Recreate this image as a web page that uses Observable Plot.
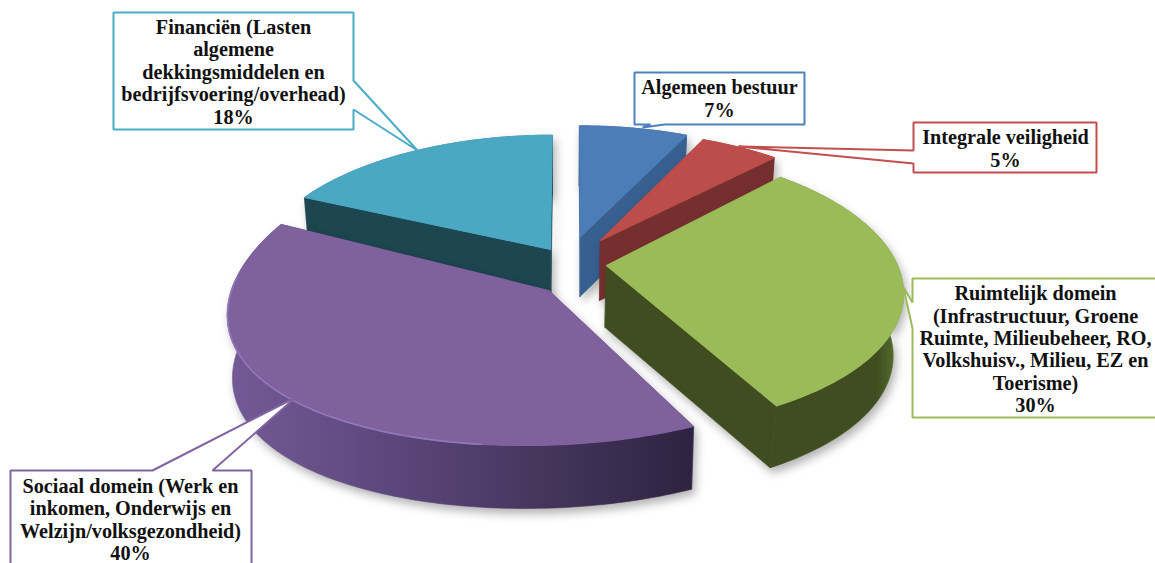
<!DOCTYPE html>
<html>
<head>
<meta charset="utf-8">
<style>html,body{margin:0;padding:0;background:#fff;overflow:hidden}</style>
<script src="https://cdn.jsdelivr.net/npm/d3@7"></script>
<script src="https://cdn.jsdelivr.net/npm/@observablehq/plot@0.6"></script>
</head>
<body>
<div id="chart"></div>
<script>
// ---- data ----
const categories = ["Algemeen bestuur", "Integrale veiligheid", "Ruimtelijk domein", "Sociaal domein", "Financiën"];
const values = [7, 5, 30, 40, 18];
const labelLines = [
  ["Algemeen bestuur"],
  ["Integrale veiligheid"],
  ["Ruimtelijk domein", "(Infrastructuur, Groene", "Ruimte, Milieubeheer, RO,", "Volkshuisv., Milieu, EZ en", "Toerisme)"],
  ["Sociaal domein (Werk en", "inkomen, Onderwijs en", "Welzijn/volksgezondheid)"],
  ["Financiën (Lasten", "algemene", "dekkingsmiddelen en", "bedrijfsvoering/overhead)"]
];

// ---- styles ----
const topColors  = ["#4c7db8", "#bd4d4a", "#9bbb59", "#7f619e", "#4aa8c3"];
const wallColors = ["#375f8f", "#762f2f", "#3f4d20", "#4a3a66", "#1d4650"];
const outerFill  = ["#375f8f", "#762f2f", "url(#greenWall)", "url(#purpleWall)", "#1d4650"];
const lineColors = ["#4f81bd", "#c0504d", "#9bbb59", "#8064a2", "#4bacc6"];

// ---- perspective of each exploded slice ----
const lens = [
  {ax: 580, ay: 236, A: 285, s: -1, bx: .15, a: 125, by: .13, depth: 60, shrink: .98},
  {ax: 600, ay: 240, A: 289, s: -7, bx: .15, a: 124, by: .125, depth: 60, shrink: .98},
  {ax: 606, ay: 265, A: 291, s: 0,  bx: .2,  a: 136, by: .172, depth: 62, shrink: .97},
  {ax: 548, ay: 290, A: 317, s: 22, bx: .09, a: 155, by: 0, depth: 63, shrink: .985},
  {ax: 550, ay: 249, A: 290, s: 2,  bx: .15, a: 129, by: .129, depth: 60, shrink: .98}
];
const vanishX = 560;

// ---- callout layout: box, leader base points on a box edge, leader tip, text centre ----
const callouts = [
  {x1: 634, y1: 72,  x2: 804,  y2: 124, leader: [[664, 124], [642, 127], [650, 124]], edge: "bottom", tx: 719,  ty: 98},
  {x1: 913, y1: 122, x2: 1096, y2: 172, leader: [[913, 150], [738, 146], [913, 163]], edge: "left", tx: 1005, ty: 148},
  {x1: 912, y1: 278, x2: 1160, y2: 417, leader: [[912, 302], [903, 287], [912, 328]], edge: "left", tx: 1035, ty: 348.5},
  {x1: 10,  y1: 470, x2: 251,  y2: 570, leader: [[152, 470], [295, 397], [212, 470]], edge: "top", tx: 130,  ty: 519},
  {x1: 113, y1: 12,  x2: 353,  y2: 129, leader: [[353, 80],  [417, 150], [353, 109]], edge: "right", tx: 233, ty: 71}
];

// ---- geometry from the shares ----
const total = d3.sum(values);
let cum = 0;
const spans = values.map(v => { const s = cum; cum += v; return [s / total * 2 * Math.PI, cum / total * 2 * Math.PI]; });

function rimPoint(g, t) {
  const u = Math.sin(t), v = Math.cos(t);
  return {x: g.ax + (g.A * u + g.s * v) / (1 + g.bx * v), y: g.ay - g.a * v / (1 + g.by * v)};
}
const apex = g => ({x: g.ax, y: g.ay});
const arc = (g, a, b) => d3.range(0, 121).map(i => rimPoint(g, a + (b - a) * i / 120));

const marks = [];
// gradients for the rounded walls
marks.push(() => {
  const defs = d3.create("svg:defs");
  defs.html(`
    <linearGradient id="purpleWall" x1="0" x2="1" y1="0" y2="0">
      <stop offset="0" stop-color="#745a96"/><stop offset=".3" stop-color="#5f4a80"/>
      <stop offset=".65" stop-color="#47375f"/><stop offset="1" stop-color="#2e2340"/>
    </linearGradient>
    <linearGradient id="greenWall" x1="0" x2="1" y1="0" y2="0">
      <stop offset="0" stop-color="#3f4d20"/><stop offset=".8" stop-color="#3f4d20"/>
      <stop offset="1" stop-color="#5f7d30"/>
    </linearGradient>`);
  return defs.node();
});

// painter's order: back slices first
const shadow = "drop-shadow(3px 5px 5px rgba(0,0,0,.3))";
[4, 0, 1, 2, 3].forEach(i => {
  const g = lens[i], [a, b] = spans[i];
  const under = p => ({x: vanishX + (p.x - vanishX) * g.shrink, y: p.y + g.depth});
  const rim = arc(g, a, b);
  const tag = (pts, key, fill) => pts.map(p => ({...p, key, fill}));
  const walls = [
    ...tag([apex(g), rim[0], under(rim[0]), under(apex(g))], "a", wallColors[i]),
    ...tag([apex(g), rim[120], under(rim[120]), under(apex(g))], "b", wallColors[i]),
    ...tag([...rim, ...rim.slice().reverse().map(under)], "c", outerFill[i])
  ];
  marks.push(Plot.line(walls, {x: "x", y: "y", z: "key", fill: "fill", stroke: "fill", strokeWidth: 0.6, curve: "linear-closed", imageFilter: shadow}));
  marks.push(Plot.line([apex(g), ...rim], {x: "x", y: "y", fill: topColors[i], stroke: topColors[i], strokeWidth: 1.2, curve: "linear-closed"}));
  if (i === 3) marks.push(Plot.line(rim.slice(30, 104), {x: "x", y: "y", stroke: "#9178b8", strokeWidth: 1.6, curve: "linear"}));
});

// callouts
callouts.forEach((c, i) => {
  const [p, q, r] = c.leader;
  const tl = [c.x1, c.y1], tr = [c.x2, c.y1], br = [c.x2, c.y2], bl = [c.x1, c.y2];
  const pts = {
    top: [tl, p, q, r, tr, br, bl],
    right: [tl, tr, p, q, r, br, bl],
    bottom: [tl, tr, br, p, q, r, bl],
    left: [tl, tr, br, bl, r, q, p]
  }[c.edge];
  marks.push(Plot.line(pts, {x: d => d[0], y: d => d[1], fill: "#fff", stroke: lineColors[i], strokeWidth: 2, curve: "linear-closed", strokeLinejoin: "miter"}));
});

const labelRows = categories.map((c, i) => ({
  category: c,
  text: [...labelLines[i], `${values[i]}%`].join("\n"),
  x: callouts[i].tx, y: callouts[i].ty
}));
marks.push(Plot.text(labelRows, {
  x: "x", y: "y", text: "text", fontSize: 20.2, lineHeight: 1.11, fontWeight: "bold",
  fontFamily: "'Liberation Serif'", fill: "#111", lineAnchor: "middle", textAnchor: "middle"
}));

const chart = Plot.plot({
  width: 1155, height: 563, margin: 0,
  x: {domain: [0, 1155], range: [0, 1155], axis: null},
  y: {domain: [0, 563], range: [0, 563], axis: null},
  color: {type: "identity"},
  style: {background: "#fff"},
  marks
});
document.getElementById("chart").append(chart);
</script>
</body>
</html>
